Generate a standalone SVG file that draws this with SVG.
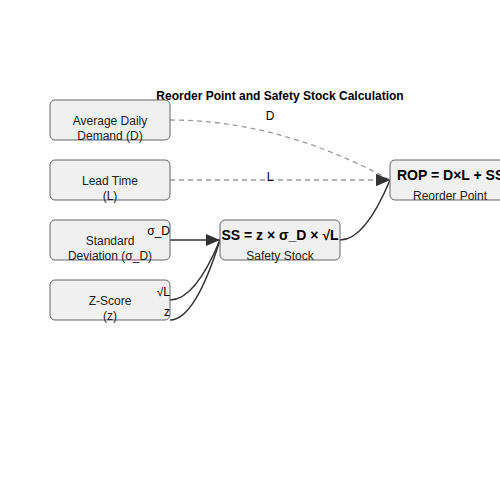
<svg xmlns="http://www.w3.org/2000/svg" width="500" height="500" viewBox="0 0 500 500">
<style>
.node rect{fill:#f0f0f0;stroke:#666;stroke-width:1;}
.lbl{font-family:"Liberation Sans",Arial,sans-serif;font-size:12px;fill:#222;text-anchor:middle;}
.big{font-family:"Liberation Sans",Arial,sans-serif;font-size:14px;font-weight:bold;fill:#000;}
.title{font-family:"Liberation Sans",Arial,sans-serif;font-size:12px;font-weight:bold;fill:#000;text-anchor:middle;}
.elbl{font-family:"Liberation Sans",Arial,sans-serif;font-size:12px;fill:#000;}
.dash{fill:none;stroke:#999;stroke-width:1.3;stroke-dasharray:5,4;}
.solid{fill:none;stroke:#333;stroke-width:1.5;}
</style>
<defs>
<marker id="arr" markerWidth="14" markerHeight="12" refX="14" refY="6" orient="0" markerUnits="userSpaceOnUse">
<path d="M0,0 L14,6 L0,12 Z" fill="#333"/>
</marker>
</defs>
<rect width="500" height="500" fill="#fff"/>
<text class="title" x="280" y="100">Reorder Point and Safety Stock Calculation</text>
<g id="connectors">
<path class="dash" d="M170,120 Q280,120 390,180" marker-end="url(#arr)"/>
<path class="dash" d="M170,180 L390,180" marker-end="url(#arr)"/>
<path class="solid" d="M170,240 L220,240" marker-end="url(#arr)"/>
<path class="solid" d="M170,300 Q195,300 220,240"/>
<path class="solid" d="M170,320 Q195,320 220,240"/>
<path class="solid" d="M340,240 Q365,240 390,180"/>
</g>
<g id="node-demand" class="node">
<rect x="50" y="100" width="120" height="40" rx="5"/>
<text class="lbl" x="110" y="125">Average Daily</text>
<text class="lbl" x="110" y="140">Demand (D)</text>
</g>
<g id="node-lead" class="node">
<rect x="50" y="160" width="120" height="40" rx="5"/>
<text class="lbl" x="110" y="185">Lead Time</text>
<text class="lbl" x="110" y="200">(L)</text>
</g>
<g id="node-sd" class="node">
<rect x="50" y="220" width="120" height="40" rx="5"/>
<text class="lbl" x="110" y="245">Standard</text>
<text class="lbl" x="110" y="260">Deviation (σ_D)</text>
</g>
<g id="node-z" class="node">
<rect x="50" y="280" width="120" height="40" rx="5"/>
<text class="lbl" x="110" y="305">Z-Score</text>
<text class="lbl" x="110" y="320">(z)</text>
</g>
<g id="node-ss" class="node">
<rect x="220" y="220" width="120" height="40" rx="5"/>
<text class="big" x="280" y="240" text-anchor="middle">SS = z × σ_D × √L</text>
<text class="lbl" x="280" y="260">Safety Stock</text>
</g>
<g id="node-rop" class="node">
<rect x="390" y="160" width="120" height="40" rx="5"/>
<text class="big" x="397" y="180">ROP = D×L + SS</text>
<text class="lbl" x="450" y="200">Reorder Point</text>
</g>
<g id="edge-labels">
<text class="elbl" x="270" y="120" text-anchor="middle">D</text>
<text class="elbl" x="270" y="181" text-anchor="middle">L</text>
<text class="elbl" x="170" y="235" text-anchor="end">σ_D</text>
<text class="elbl" x="170" y="296" text-anchor="end">√L</text>
<text class="elbl" x="170" y="316" text-anchor="end">z</text>
</g>
</svg>
